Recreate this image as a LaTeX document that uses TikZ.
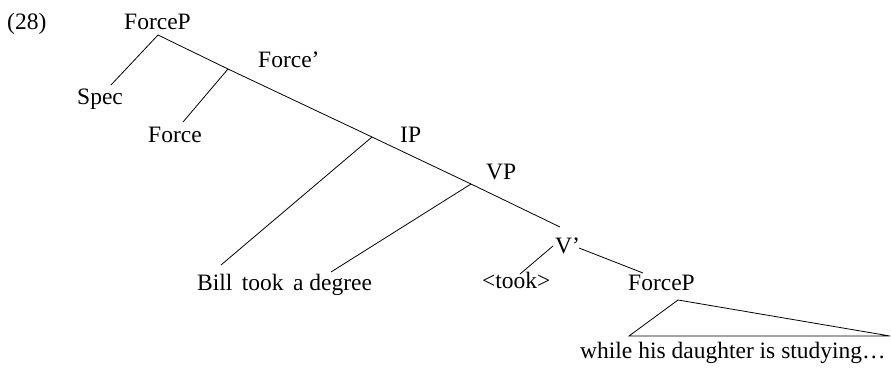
\documentclass[tikz,border=0pt]{standalone}
\usepackage{fontspec}
\setmainfont{Liberation Serif}
\begin{document}
\begin{tikzpicture}[x=1pt,y=-1pt,
  lbl/.style={anchor=base west,inner sep=0pt,font=\fontsize{23.5}{28}\selectfont},
  edge/.style={draw=black,line width=0.8pt}]
\useasboundingbox (0,0) rectangle (891,369);
% labels
\node[lbl] (ex) at (7,30) {(28)};
\node[lbl] (fp) at (124,30) {ForceP};
\node[lbl] (fbar) at (258,67) {Force’};
\node[lbl] (spec) at (77,104) {Spec};
\node[lbl] (force) at (148,142) {Force};
\node[lbl] (ip) at (400,142) {IP};
\node[lbl] (vp) at (486,179) {VP};
\node[lbl] (vbar) at (555,253) {V’};
\node[lbl] (bill) at (197,290) {Bill\hspace{0.4em}took\hspace{0.4em}a degree};
\node[lbl] (took) at (482,288) {<took>};
\node[lbl] (fp2) at (628,290) {ForceP};
\node[lbl] (while) at (580,358) {while his daughter is studying…};
% branch points
\coordinate (fpB) at (158,35);
\coordinate (specT) at (111,85);
\coordinate (fbarB) at (228,69);
\coordinate (forceT) at (183,122);
\coordinate (ipB) at (372,137);
\coordinate (billT) at (221,265);
\coordinate (vpB) at (471,184);
\coordinate (degT) at (331,272);
\coordinate (vbarT) at (560,227);
\coordinate (vbarL) at (553,246);
\coordinate (tookT) at (520,274);
\coordinate (vbarR) at (579,248);
\coordinate (fp2T) at (643,273);
\coordinate (triA) at (678,300);
\coordinate (triL) at (629,336);
\coordinate (triR) at (890,336);
% edges
\draw[edge] (specT) -- (fpB) -- (fbarB) -- (ipB) -- (vpB) -- (vbarT);
\draw[edge] (fbarB) -- (forceT);
\draw[edge] (ipB) -- (billT);
\draw[edge] (vpB) -- (degT);
\draw[edge] (vbarL) -- (tookT);
\draw[edge] (vbarR) -- (fp2T);
\draw[edge] (triA) -- (triL) -- (triR) -- cycle;
\end{tikzpicture}
\end{document}
